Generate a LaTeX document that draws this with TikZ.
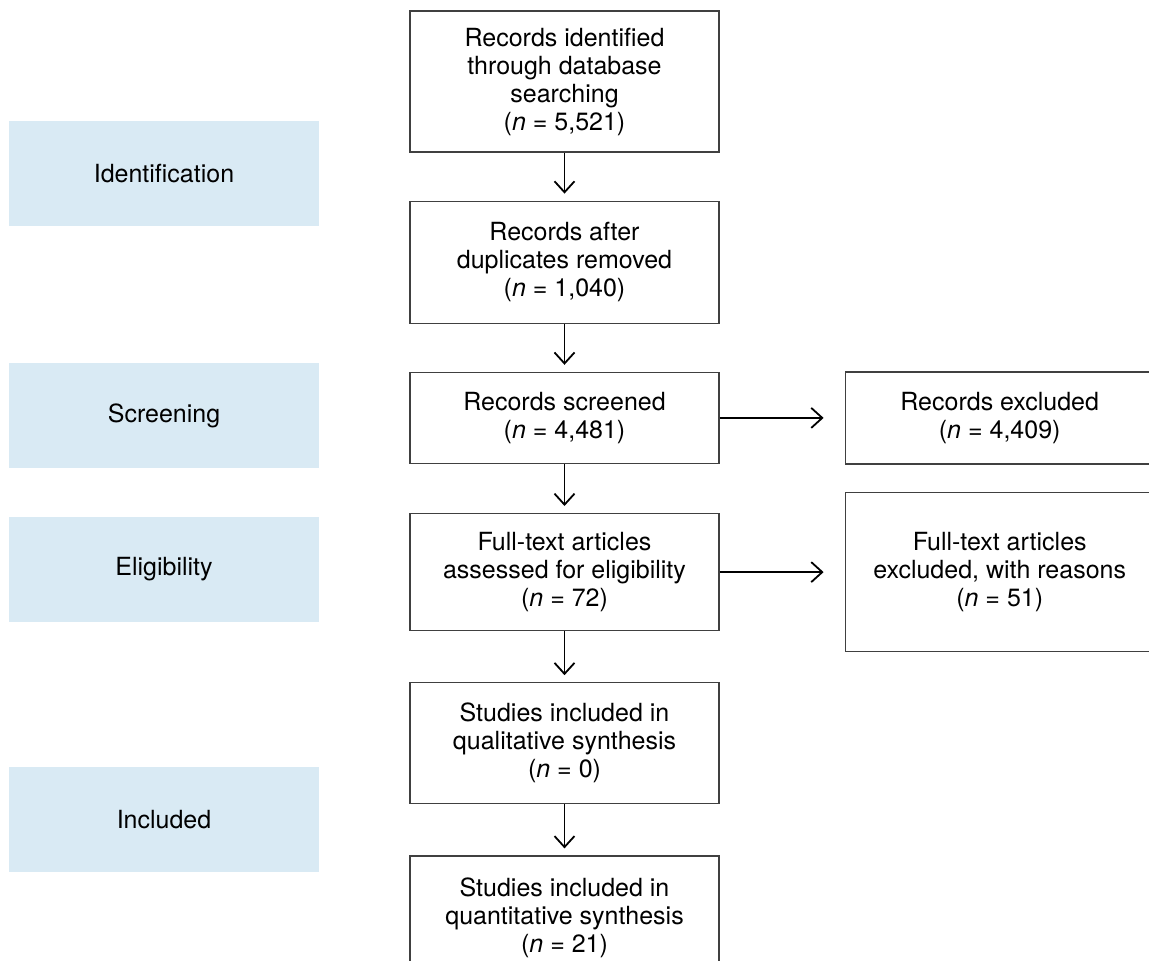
\documentclass[tikz,border=0pt]{standalone}
\usepackage{fontspec}
\setmainfont{TeX Gyre Heros}
\usetikzlibrary{arrows.meta,positioning}
\definecolor{stageblue}{RGB}{217,234,244}
\tikzset{
  stage/.style={fill=stageblue,minimum width=310pt,minimum height=105pt,inner sep=0pt,align=center},
  flowbox/.style={draw=black!75,line width=1.2pt,minimum width=309pt,inner sep=0pt,align=center},
  flowarrow/.style={line width=1.8pt,-{Straight Barb[length=11pt,width=20pt]}},
}
\begin{document}
\begin{tikzpicture}[x=1pt,y=1pt,node distance=48pt,font=\fontsize{25}{28}\selectfont]
\useasboundingbox (0,0) rectangle (1149,-961);
\clip (0,0) rectangle (1149,-961);
\node[stage] (ident) at (164,-173.5) {Identification};
\node[stage] (screen) at (164,-415.5) {Screening};
\node[stage] (elig) at (164,-569.5) {Eligibility};
\node[stage] (incl) at (164,-819.5) {Included};

\node[flowbox,minimum height=141pt] (found) at (564.5,-81.5) {Records identified\\through database\\searching\\(\textit{n} = 5,521)};
\node[flowbox,minimum height=122pt,below=of found] (dedup) {Records after\\duplicates removed\\(\textit{n} = 1,040)};
\node[flowbox,minimum height=91pt,below=of dedup] (screened) {Records screened\\(\textit{n} = 4,481)};
\node[flowbox,minimum height=117pt,below=49pt of screened] (fulltext) {Full-text articles\\assessed for eligibility\\(\textit{n} = 72)};
\node[flowbox,minimum height=121pt,below=51pt of fulltext] (qual) {Studies included in\\qualitative synthesis\\(\textit{n} = 0)};
\node[flowbox,minimum height=124pt,below=51pt of qual] (quant) {Studies included in\\quantitative synthesis\\(\textit{n} = 21)};
\node[flowbox,minimum height=92pt,right=125pt of screened] (excl) {Records excluded\\(\textit{n} = 4,409)};
\node[flowbox,minimum height=159pt,right=125pt of fulltext] (fullexcl) {Full-text articles\\excluded, with reasons\\(\textit{n} = 51)};

\draw[flowarrow,shorten >=7pt] (found) -- (dedup);
\draw[flowarrow,shorten >=7pt] (dedup) -- (screened);
\draw[flowarrow,shorten >=7pt] (screened) -- (fulltext);
\draw[flowarrow,shorten >=7pt] (fulltext) -- (qual);
\draw[flowarrow,shorten >=7pt] (qual) -- (quant);
\draw[flowarrow,shorten >=21pt] (screened) -- (excl);
\draw[flowarrow,shorten >=21pt] (fulltext) -- (fullexcl);
\end{tikzpicture}
\end{document}
